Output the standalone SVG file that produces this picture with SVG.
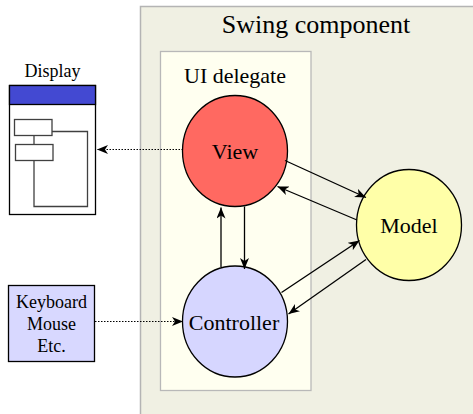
<svg xmlns="http://www.w3.org/2000/svg" width="473" height="414" viewBox="0 0 473 414">
<defs>
<style>
text{font-family:"Liberation Serif","Times New Roman","DejaVu Serif",serif;fill:#000;}
.node{stroke:#000;stroke-width:1.3;}
.edge{fill:none;stroke:#000;stroke-width:1.3;}
.dot{fill:none;stroke:#000;stroke-width:1;stroke-dasharray:1.5 1.5;}
.win{fill:none;stroke:#404040;stroke-width:1.3;}
</style>
<marker id="ah" markerUnits="userSpaceOnUse" markerWidth="12" markerHeight="10" refX="11" refY="4.5" orient="auto" viewBox="0 0 12 10">
<path d="M0,0 L11,4.5 L0,9 L3,4.5 Z" fill="#000"/>
</marker>
</defs>
<rect width="473" height="414" fill="#fff"/>
<g id="swing">
<rect x="140.5" y="6.5" width="340" height="420" fill="#f0f0e3" stroke="#b4b4b4" stroke-width="1.5"/>
<text x="316" y="33" font-size="26" text-anchor="middle" font-family="Liberation Serif, DejaVu Serif, serif">Swing component</text>
</g>
<g id="uidelegate">
<rect x="160.5" y="51.5" width="150.5" height="339" fill="#fffff0" stroke="#b8b8b8" stroke-width="1.3"/>
<text x="235" y="83" font-size="22" text-anchor="middle">UI delegate</text>
</g>
<g id="display">
<text x="52.5" y="77" font-size="18" text-anchor="middle">Display</text>
<rect x="9.5" y="85.5" width="86" height="129" fill="#fff" stroke="#000" stroke-width="1.3"/>
<rect x="9.5" y="85.5" width="86" height="19" fill="#4349d2" stroke="#000" stroke-width="1.3"/>
<rect x="14.5" y="119.5" width="37.5" height="16" fill="#fff" class="win"/>
<rect x="15.5" y="144.5" width="37.5" height="16" fill="#fff" class="win"/>
<polyline class="win" points="52,131.5 87.5,131.5 87.5,206.5 34,206.5 34,160.5"/>
<line class="win" x1="34" y1="135.5" x2="34" y2="144.5"/>
</g>
<g id="input">
<rect x="8.5" y="285.5" width="86" height="76" fill="#d8d8ff" stroke="#000" stroke-width="1.3"/>
<text x="51.5" y="308" font-size="18" text-anchor="middle">Keyboard</text>
<text x="51.5" y="330" font-size="18" text-anchor="middle">Mouse</text>
<text x="51.5" y="352" font-size="18" text-anchor="middle">Etc.</text>
</g>
<g id="view">
<ellipse class="node" cx="235" cy="151" rx="52.5" ry="55.5" fill="#ff6961"/>
<text x="235" y="159" font-size="22" text-anchor="middle">View</text>
</g>
<g id="controller">
<ellipse class="node" cx="235" cy="321.5" rx="52.5" ry="55.5" fill="#d6d6ff"/>
<text x="234" y="329.5" font-size="22" text-anchor="middle">Controller</text>
</g>
<g id="model">
<ellipse class="node" cx="409" cy="225" rx="52.5" ry="55.5" fill="#ffffa8"/>
<text x="409" y="233" font-size="22" text-anchor="middle">Model</text>
</g>
<g id="connectors">
<line class="dot" x1="183" y1="149.5" x2="97" y2="149.5" marker-end="url(#ah)"/>
<line class="dot" x1="95" y1="321.5" x2="183" y2="321.5" marker-end="url(#ah)"/>
<line class="edge" x1="285" y1="160.5" x2="366" y2="197.5" marker-end="url(#ah)"/>
<line class="edge" x1="357" y1="220" x2="277.5" y2="186.5" marker-end="url(#ah)"/>
<line class="edge" x1="281.5" y1="292.5" x2="359.5" y2="240.5" marker-end="url(#ah)"/>
<line class="edge" x1="366" y1="259.5" x2="288.5" y2="314" marker-end="url(#ah)"/>
<line class="edge" x1="221" y1="267" x2="221" y2="207.5" marker-end="url(#ah)"/>
<line class="edge" x1="244.5" y1="206.5" x2="244.5" y2="269" marker-end="url(#ah)"/>
</g>
</svg>
